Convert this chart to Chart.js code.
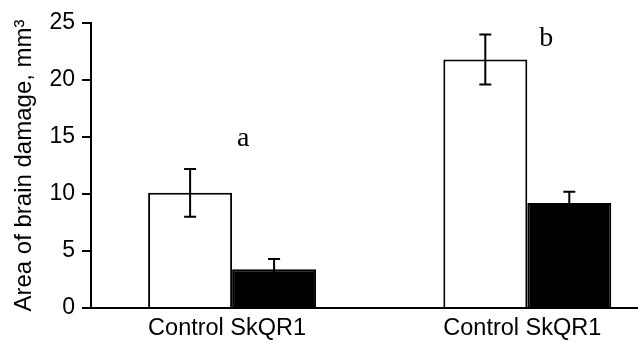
<!DOCTYPE html>
<html>
<head>
<meta charset="utf-8">
<script src="https://cdn.jsdelivr.net/npm/chart.js@4.4.0/dist/chart.umd.min.js"></script>
<style>
html, body { margin: 0; padding: 0; background: #fff; overflow: hidden; }
#wrap { width: 638px; height: 347px; position: relative; }
</style>
</head>
<body>
<div id="wrap"><canvas id="chart"></canvas></div>
<script>
// groups along the x axis
const groups = ['Control SkQR1', 'Control SkQR1'];
const groupX = [1, 2];
const groupLetters = ['a', 'b'];

// means and error half-widths, mm3
const controlMeans = [10.1, 21.8];
const controlErrors = [2.1, 2.2];
const skqMeans = [3.4, 9.2];
const skqErrors = [0.9, 1.0];

const yTicks = [0, 5, 10, 15, 20, 25];

Chart.defaults.font.family = '"Liberation Sans", Arial, sans-serif';
Chart.defaults.color = '#000';

// whiskers drawn on top of each bar
const errorBars = {
    id: 'errorBars',
    afterDatasetsDraw(chart) {
        const ctx = chart.ctx;
        const y = chart.scales.y;
        ctx.save();
        ctx.strokeStyle = '#000';
        ctx.lineWidth = 2;
        chart.data.datasets.forEach((ds, i) => {
            chart.getDatasetMeta(i).data.forEach((bar, j) => {
                const v = ds.data[j].y;
                const e = ds.errors[j];
                const top = y.getPixelForValue(v + e);
                const bot = y.getPixelForValue(v - e);
                ctx.beginPath();
                ctx.moveTo(bar.x, top); ctx.lineTo(bar.x, bot);
                ctx.moveTo(bar.x - 6, top); ctx.lineTo(bar.x + 6, top);
                ctx.moveTo(bar.x - 6, bot); ctx.lineTo(bar.x + 6, bot);
                ctx.stroke();
            });
        });
        ctx.restore();
    }
};

// the a / b letters beside each group
const groupMarks = {
    id: 'groupMarks',
    afterDatasetsDraw(chart, args, opts) {
        const { ctx, scales: { x, y } } = chart;
        ctx.save();
        ctx.font = '28px "Liberation Serif", "Times New Roman", serif';
        ctx.fillStyle = '#000';
        ctx.textAlign = 'center';
        ctx.textBaseline = 'alphabetic';
        groupLetters.forEach((t, i) => {
            const p = opts.spots[i];
            ctx.fillText(t, x.getPixelForValue(groupX[i]) + p.dx, y.getPixelForValue(p.y));
        });
        ctx.restore();
    }
};

new Chart(document.getElementById('chart'), {
    type: 'bar',
    data: {
        datasets: [
            {
                label: 'Control',
                data: groupX.map((x, i) => ({ x, y: controlMeans[i] })),
                errors: controlErrors,
                backgroundColor: '#fff',
                borderColor: '#000',
                borderWidth: 2
            },
            {
                label: 'SkQR1',
                data: groupX.map((x, i) => ({ x, y: skqMeans[i] })),
                errors: skqErrors,
                backgroundColor: '#000',
                borderColor: '#000',
                borderWidth: 2
            }
        ]
    },
    options: {
        responsive: true,
        maintainAspectRatio: false,
        animation: false,
        categoryPercentage: 0.569,
        barPercentage: 1,
        layout: { padding: { top: 23, left: 0, right: 0, bottom: 0 } },
        scales: {
            x: {
                type: 'linear',
                min: 0.522,
                max: 2.375,
                offset: false,
                z: 1,
                afterBuildTicks: axis => { axis.ticks = groupX.map(v => ({ value: v })); },
                afterFit: axis => { axis.height = 39; },
                ticks: {
                    callback: (v, i) => groups[i],
                    font: { size: 23.5 },
                    color: '#000',
                    padding: 6,
                    labelOffset: -5,
                    maxRotation: 0,
                    autoSkip: false
                },
                grid: { display: false, drawTicks: false, offset: false },
                border: { color: '#000', width: 2 }
            },
            y: {
                min: 0,
                max: 25,
                afterBuildTicks: axis => { axis.ticks = yTicks.map(v => ({ value: v })); },
                afterFit: axis => { axis.width = 91; },
                ticks: { font: { size: 23 }, color: '#000', padding: 7 },
                grid: { drawOnChartArea: false, tickLength: 9, color: '#000', lineWidth: 2 },
                border: { color: '#000', width: 2 },
                title: {
                    display: true,
                    text: 'Area of brain damage, mm³',
                    font: { size: 24 },
                    color: '#000',
                    padding: { top: 10, bottom: 0 }
                }
            }
        },
        plugins: {
            legend: { display: false },
            tooltip: { enabled: false },
            groupMarks: { spots: [{ dx: 11, y: 14.2 }, { dx: 19, y: 23.0 }] }
        }
    },
    plugins: [errorBars, groupMarks]
});
</script>
</body>
</html>
